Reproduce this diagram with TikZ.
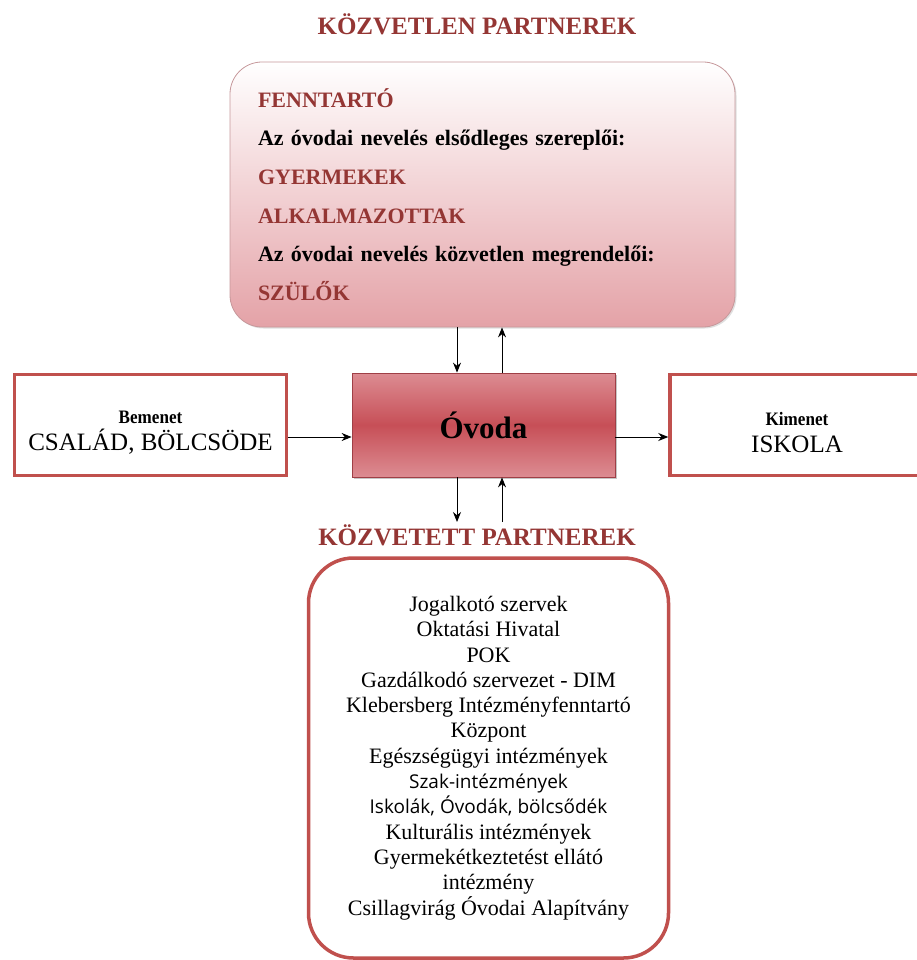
\documentclass[tikz,border=0pt]{standalone}
\usepackage{fontspec}
\setmainfont{Liberation Serif}
\newfontfamily\sansfont{Open Sans}
\usepackage{xcolor}
\usepackage{tikz}
\usetikzlibrary{arrows.meta, positioning, shadows}

\definecolor{boxred}{HTML}{C0504D}
\definecolor{titlered}{HTML}{943634}
\definecolor{pinkfill}{HTML}{E4A2A7}
\definecolor{ovodadark}{HTML}{C74F57}
\definecolor{ovodalight}{HTML}{DC8C92}

\newcommand{\fs}[2]{\fontsize{#1}{#2}\selectfont}

\begin{document}
\begin{tikzpicture}[
    x=1pt, y=-1pt,
    heading/.style={font=\bfseries\fs{25}{29}, text=titlered, inner sep=2pt},
    sidebox/.style={rectangle, draw=boxred, line width=3.5pt, fill=white, minimum height=101pt},
    partnerbox/.style={rectangle, rounded corners=32pt, draw=pinkfill!70!gray, line width=0.8pt,
        top color=white, bottom color=pinkfill, minimum width=505pt, minimum height=265pt,
        text width=449pt, align=left, font=\bfseries\fs{22}{38.6},
        drop shadow={shadow xshift=1.5pt, shadow yshift=-1.5pt, opacity=0.25}},
    listbox/.style={rectangle, rounded corners=45pt, draw=boxred, line width=3.5pt, fill=white,
        minimum width=360pt, minimum height=400pt, align=center, font=\fs{22}{25.3}},
    core/.style={rectangle, draw=ovodadark!80!black, line width=0.8pt,
        top color=ovodalight, bottom color=ovodalight, middle color=ovodadark,
        minimum width=263pt, minimum height=104pt, font=\bfseries\fs{31}{36},
        drop shadow={shadow xshift=2pt, shadow yshift=-2pt, opacity=0.45}},
    arrow/.style={-{Stealth[length=10pt, width=8pt]}, line width=0.9pt}
]
\useasboundingbox (0,0) rectangle (917,960);

% Direct partners
\node[heading, anchor=base] (directtitle) at (477,35) {KÖZVETLEN PARTNEREK};
\node[partnerbox] (direct) at (482.5,194.5) {%
    \textcolor{titlered}{FENNTARTÓ}\\
    Az óvodai nevelés elsődleges szereplői:\\
    \textcolor{titlered}{GYERMEKEK}\\
    \textcolor{titlered}{ALKALMAZOTTAK}\\
    Az óvodai nevelés közvetlen megrendelői:\\
    \textcolor{titlered}{SZÜLŐK}};

% Kindergarten with input and output
\node[core] (ovoda) at (483.5,425) {Óvoda};
\node[sidebox, minimum width=272pt] (input) at (150.5,425) {};
\node[align=center, font=\fs{25}{27}] (inputtext) at (150.5,433) {{\bfseries\fs{19}{21}\scalebox{0.9}[1]{Bemenet}}\\CSALÁD, BÖLCSÖDE};
\node[sidebox, minimum width=262pt] (output) at (801,425) {};
\node[align=center, font=\fs{25}{27}] (outputtext) at (797,433) {{\bfseries\fs{19}{21}\scalebox{0.9}[1]{Kimenet}}\\ISKOLA};

\draw[arrow] ([yshift=-12pt]input.east) -- ([yshift=-12pt]ovoda.west);
\draw[arrow] ([yshift=-12pt]ovoda.east) -- ([yshift=-12pt]output.west);

% Indirect partners
\node[heading, anchor=base] (indirecttitle) at (477,545) {KÖZVETETT PARTNEREK};
\node[listbox] (indirect) at (488.5,758) {%
    Jogalkotó szervek\\
    Oktatási Hivatal\\
    POK\\
    Gazdálkodó szervezet - DIM\\
    Klebersberg Intézményfenntartó\\
    Központ\\
    Egészségügyi intézmények\\
    {\sansfont\fs{19}{25.3}Szak-intézmények}\\
    {\sansfont\fs{19}{25.3}Iskolák, Óvodák, bölcsődék}\\
    Kulturális intézmények\\
    Gyermekétkeztetést ellátó\\
    intézmény\\
    Csillagvirág Óvodai Alapítvány};

% Links up and down
\draw[arrow] ([xshift=-26.5pt]ovoda.north |- direct.south) -- ([xshift=-26.5pt]ovoda.north);
\draw[arrow] ([xshift=18.5pt]ovoda.north) -- ([xshift=18.5pt]ovoda.north |- direct.south);
\draw[arrow] ([xshift=-26.5pt]ovoda.south) -- ([xshift=-26.5pt]ovoda.south |- indirecttitle.north);
\draw[arrow] ([xshift=18.5pt]ovoda.south |- indirecttitle.north) -- ([xshift=18.5pt]ovoda.south);

\end{tikzpicture}
\end{document}
